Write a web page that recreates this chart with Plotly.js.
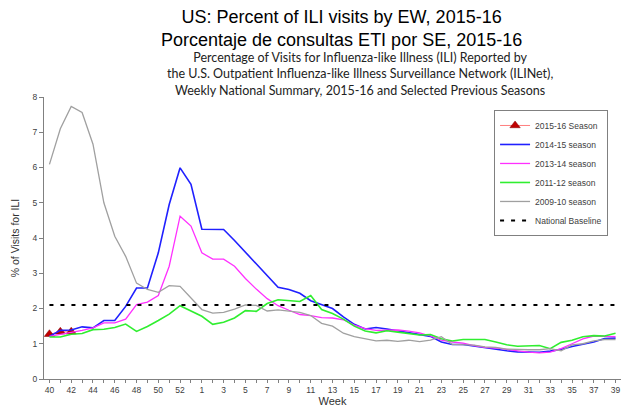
<!DOCTYPE html>
<html>
<head>
<meta charset="utf-8">
<script src="https://cdn.plot.ly/plotly-3.0.1.min.js"></script>
<style>
  html, body { margin: 0; padding: 0; background: #fff; }
  #chart { width: 621px; height: 410px; }
</style>
</head>
<body>
<div id="chart"></div>
<script>
// surveillance weeks 40..53, then 1..39
const weeks = ['40','41','42','43','44','45','46','47','48','49','50','51','52','53',
  '1','2','3','4','5','6','7','8','9','10','11','12','13','14','15','16','17','18','19',
  '20','21','22','23','24','25','26','27','28','29','30','31','32','33','34','35','36',
  '37','38','39']
const labeledWeeks = ['40','42','44','46','48','50','52','1','3','5','7','9','11','13','15',
  '17','19','21','23','25','27','29','31','33','35','37','39']

const season1516 = [1.27, 1.34, 1.34]

const season1415 = [1.21, 1.38, 1.39, 1.48, 1.45, 1.66, 1.66, 2.06, 2.58, 2.58, 3.58, 4.95, 5.99, 5.52,
  4.25, 4.25, 4.24, 3.93, 3.6, 3.27, 2.95, 2.6, 2.54, 2.43, 2.22, 2.1, 2.0, 1.76, 1.55, 1.42,
  1.46, 1.42, 1.37, 1.33, 1.26, 1.21, 1.05, 0.98, 0.98, 0.93, 0.88, 0.84, 0.8, 0.77, 0.76,
  0.76, 0.79, 0.84, 0.92, 0.98, 1.05, 1.15, 1.16]

const season1314 = [1.21, 1.26, 1.31, 1.38, 1.45, 1.59, 1.59, 1.7, 2.11, 2.18, 2.37, 3.2, 4.62, 4.34,
  3.58, 3.4, 3.4, 3.2, 2.85, 2.55, 2.28, 2.08, 1.95, 1.83, 1.8, 1.74, 1.73, 1.68, 1.53, 1.43,
  1.38, 1.38, 1.39, 1.36, 1.31, 1.22, 1.1, 1.05, 1.02, 0.95, 0.9, 0.88, 0.85, 0.8, 0.76,
  0.74, 0.76, 0.86, 1.0, 1.14, 1.22, 1.22, 1.2]

const season1112 = [1.19, 1.19, 1.27, 1.29, 1.4, 1.41, 1.46, 1.56, 1.35, 1.49, 1.66, 1.84, 2.08, 1.93,
  1.78, 1.55, 1.61, 1.73, 1.94, 1.92, 2.14, 2.25, 2.23, 2.2, 2.37, 1.97, 1.86, 1.7, 1.5, 1.36,
  1.31, 1.37, 1.33, 1.3, 1.25, 1.26, 1.14, 1.08, 1.12, 1.12, 1.12, 1.05, 0.97, 0.93, 0.95,
  0.95, 0.86, 1.04, 1.1, 1.2, 1.23, 1.22, 1.3]

const season0910 = [6.09, 7.1, 7.73, 7.56, 6.66, 5.0, 4.05, 3.48, 2.72, 2.54, 2.46, 2.65, 2.63, 2.3,
  1.97, 1.87, 1.89, 1.98, 2.1, 2.09, 1.93, 1.96, 1.93, 1.89, 1.8, 1.58, 1.5, 1.3, 1.2, 1.15,
  1.08, 1.1, 1.07, 1.1, 1.06, 1.1, 1.2, 0.98, 0.97, 0.96, 0.91, 0.9, 0.85, 0.83, 0.83,
  0.83, 0.86, 0.8, 0.97, 1.0, 1.08, 1.12, 1.12]

const nationalBaseline = 2.1

const tickText = weeks.map(w => labeledWeeks.includes(w) ? w : '')

const traces = [
  {
    x: weeks.slice(0, season1516.length), y: season1516,
    name: '2015-16 Season', type: 'scatter', mode: 'lines+markers',
    line: { color: '#ff7f7f', width: 1 },
    marker: { symbol: 'triangle-up', size: 9, color: '#c00000', line: { color: '#800000', width: 0.5 } }
  },
  { x: weeks, y: season1415, name: '2014-15 season', type: 'scatter', mode: 'lines',
    line: { color: '#2020ff', width: 1.6 } },
  { x: weeks, y: season1314, name: '2013-14 season', type: 'scatter', mode: 'lines',
    line: { color: '#ff30ff', width: 1.3 } },
  { x: weeks, y: season1112, name: '2011-12 season', type: 'scatter', mode: 'lines',
    line: { color: '#30ee30', width: 1.6 } },
  { x: weeks, y: season0910, name: '2009-10 season', type: 'scatter', mode: 'lines',
    line: { color: '#a0a0a0', width: 1.3 } },
  { x: weeks, y: weeks.map(() => nationalBaseline), name: 'National Baseline', type: 'scatter', mode: 'lines',
    line: { color: '#000000', width: 2, dash: '4px,7px' } }
]

const layout = {
  width: 621,
  height: 410,
  margin: { l: 44, r: 0, t: 97, b: 31 },
  paper_bgcolor: '#ffffff',
  plot_bgcolor: '#ffffff',
  font: { family: 'Arial, Liberation Sans, sans-serif', color: '#404040', size: 8 },
  annotations: [
    {
      text: 'US: Percent of ILI visits by EW, 2015-16<br>Porcentaje de consultas ETI por SE, 2015-16',
      xref: 'paper', yref: 'paper', x: 0.515, y: 1.243, xanchor: 'center', yanchor: 'middle',
      showarrow: false, font: { family: 'Arial, Liberation Sans, sans-serif', size: 18, color: '#000000' }
    },
    {
      text: 'Percentage of Visits for Influenza-like Illness (ILI) Reported by<br>' +
        'the U.S. Outpatient Influenza-like Illness Surveillance Network (ILINet),<br>' +
        'Weekly National Summary, 2015-16 and Selected Previous Seasons',
      xref: 'paper', yref: 'paper', x: 0.548, y: 1.172, xanchor: 'center', yanchor: 'top',
      showarrow: false, font: { family: 'Lato, Open Sans, sans-serif', size: 12.5, color: '#222222' }
    }
  ],
  xaxis: {
    type: 'category',
    range: [-0.5, 52.5],
    tickmode: 'array', tickvals: weeks, ticktext: tickText,
    ticks: 'outside', ticklen: 3, tickcolor: '#808080',
    showline: true, linecolor: '#808080', linewidth: 1,
    showgrid: false, zeroline: false,
    tickfont: { size: 8.5, color: '#404040' },
    title: { text: 'Week', font: { size: 11, color: '#303030' }, standoff: 2 }
  },
  yaxis: {
    range: [0, 8], dtick: 1,
    ticks: 'outside', ticklen: 4, tickcolor: '#808080',
    showline: true, linecolor: '#808080', linewidth: 1,
    showgrid: false, zeroline: false,
    tickfont: { size: 8.5, color: '#404040' },
    title: { text: '% of Visits for ILI', font: { size: 10.5, color: '#303030' }, standoff: 10 }
  },
  legend: {
    x: 0.78, y: 0.954, xanchor: 'left', yanchor: 'top',
    bgcolor: '#ffffff', bordercolor: '#808080', borderwidth: 1,
    font: { size: 8.5, color: '#404040' },
    itemwidth: 30, tracegroupgap: 0
  },
  showlegend: true
}

Plotly.newPlot('chart', traces, layout, { staticPlot: true, displayModeBar: false })
</script>
</body>
</html>
